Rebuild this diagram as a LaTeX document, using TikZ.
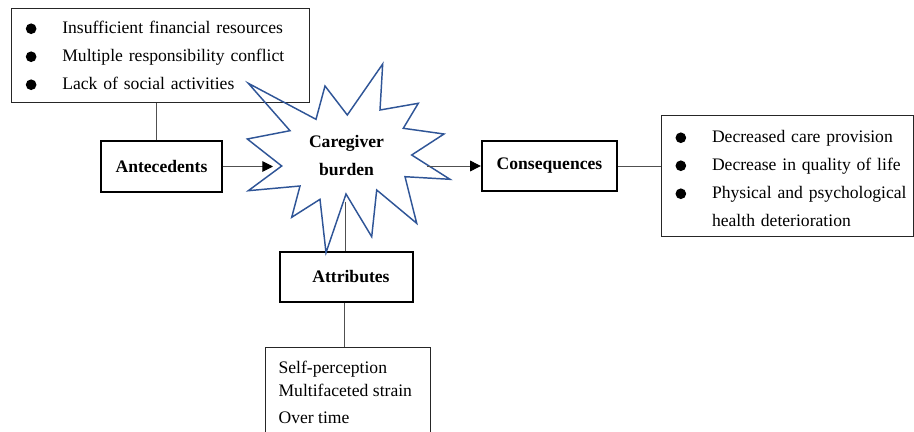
\documentclass[tikz,border=0pt]{standalone}
\usepackage{fontspec}
\setmainfont{Liberation Serif}
\usetikzlibrary{arrows.meta}
\definecolor{starblue}{RGB}{47,85,151}
\definecolor{connc}{RGB}{80,80,80}
\newcommand{\bltdot}{\tikz[baseline=-3.3pt]\fill[black] (0pt,0pt) circle (4pt);}
\newcommand{\blt}{\hspace*{10.8pt}\makebox[27.4pt][l]{\bltdot}}
\begin{document}
\begin{tikzpicture}[x=0.75pt,y=-0.75pt,
  font=\fontsize{13.2}{21}\selectfont,
  listbox/.style={draw=black!85, line width=0.6pt, inner xsep=0pt, inner ysep=0pt,
                  text width=#1, align=left, anchor=north west},
  mainbox/.style={draw=black, line width=1.3pt, inner sep=0pt,
                  font=\fontsize{13.2}{16}\selectfont\bfseries},
  conn/.style={draw=connc, line width=0.75pt},
  arr/.style={conn, -{Triangle[length=8pt,width=8pt,color=black]}}]
\useasboundingbox (0,0) rectangle (914,432);
\clip (0,0) rectangle (914,432);

% antecedents list
\node[listbox=223.5pt, minimum height=70.5pt] (antelist) at (11,8)
  {\blt Insufficient financial resources\\
   \blt Multiple responsibility conflict\\
   \blt Lack of social activities};

% consequences list
\node[listbox=189.4pt, minimum height=90.75pt] (conslist) at (660.7,115)
  {\rule{0pt}{12.5pt}\blt Decreased care provision\\
   \blt Decrease in quality of life\\
   \blt Physical and psychological\\
   \hspace*{38.2pt}health deterioration};

% main boxes
\node[mainbox, minimum width=90.75pt, minimum height=38.25pt] (ante) at (161.5,166.5) {Antecedents};
\node[mainbox, minimum width=101.7pt, minimum height=37.5pt] (cons) at (549.5,166) {Consequences};
\node[mainbox, minimum width=99.5pt, minimum height=37.5pt] (attr) at (346.3,276.7) {\hspace*{7pt}Attributes};

% star
\draw[starblue, line width=1.1pt, line join=miter]
  (382.7,64) -- (347.3,115) -- (325,86) -- (316,119.3) -- (248.3,83.3)
  -- (290,130.7) -- (247.3,139) -- (281.7,166) -- (248.3,190.7) -- (300,186)
  -- (291.7,217.3) -- (320,199.3) -- (326,252.7) -- (346,194) -- (371.7,236.7)
  -- (376.7,190) -- (416.7,223.3) -- (405,176.7) -- (450,179.3) -- (411.7,155)
  -- (444,134) -- (403.3,128.3) -- (418.3,103.3) -- (380,110) -- cycle;
\node[font=\fontsize{13.2}{20.7}\selectfont\bfseries, align=center, inner sep=0pt]
  (burden) at (346.5,155.5) {Caregiver\\burden};
\coordinate (sin) at (273,166.5);
\coordinate (sout) at (427,166);
\coordinate (sdown) at (345.3,201.7);

% attributes list
\node[draw=black!85, line width=0.6pt, minimum width=123.75pt, minimum height=75pt,
      anchor=north west, inner sep=0pt] (attbox) at (265,347.3) {};
\node[anchor=north west, align=left, inner sep=0pt, font=\fontsize{13.2}{17.25}\selectfont]
  (attlist) at (278.3,361) {Self-perception\\Multifaceted strain\\[3pt]Over time};

% connectors
\draw[conn] ([xshift=-3.4pt]ante.north) -- ([xshift=-3.4pt]ante.north |- antelist.south);
\draw[arr] (ante.east) -- (sin);
\draw[arr] (sout) -- (cons.west);
\draw[conn] (cons.east) -- (cons.east -| conslist.west);
\draw[conn] (sdown) -- (sdown |- attr.north);
\draw[conn] ([xshift=-1pt]attr.south) -- ([xshift=-1pt]attr.south |- attbox.north);
\end{tikzpicture}
\end{document}
